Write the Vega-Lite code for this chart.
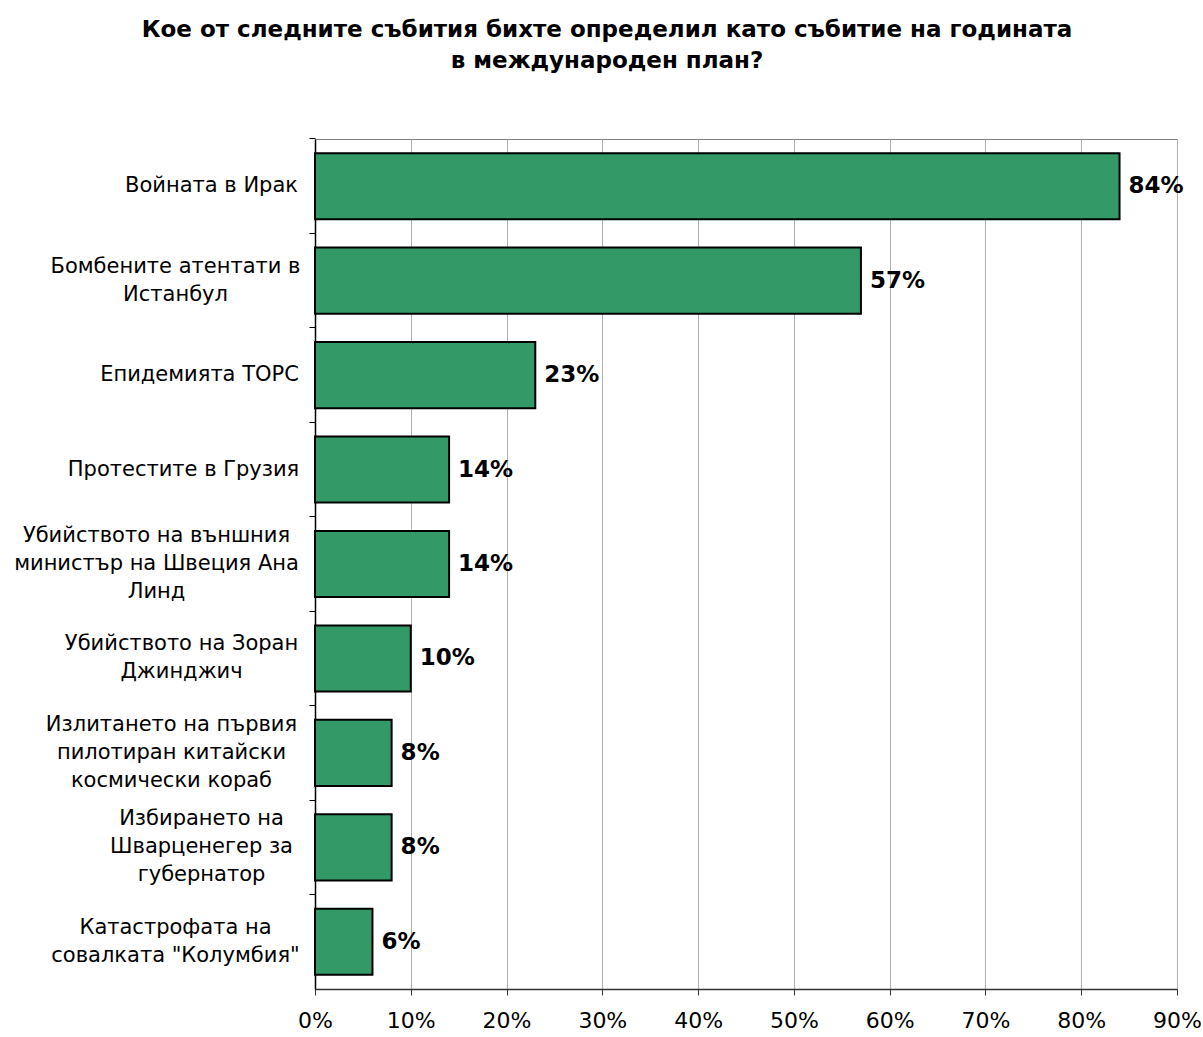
{
  "$schema": "https://vega.github.io/schema/vega-lite/v6.json",
  "autosize": {"type": "none"},
  "width": 862,
  "height": 850,
  "padding": {"left": 315, "top": 139, "right": 26, "bottom": 48},
  "background": "white",
  "title": {
    "text": ["Кое от следните събития бихте определил като събитие на годината", "в международен план?"],
    "font": "DejaVu Sans",
    "fontSize": 23,
    "fontWeight": "bold",
    "color": "black",
    "anchor": "middle",
    "dx": -139,
    "offset": 65,
    "lineHeight": 31
  },
  "config": {
    "view": {"stroke": "#808080", "strokeWidth": 1},
    "font": "DejaVu Sans"
  },
  "data": {
    "values": [
      {"event": "Войната в Ирак", "value": 84},
      {"event": "Бомбените атентати в|Истанбул", "value": 57},
      {"event": "Епидемията ТОРС", "value": 23},
      {"event": "Протестите в Грузия", "value": 14},
      {"event": "Убийството на външния|министър на Швеция Ана|Линд", "value": 14},
      {"event": "Убийството на Зоран|Джинджич", "value": 10},
      {"event": "Излитането на първия|пилотиран китайски|космически кораб", "value": 8},
      {"event": "Избирането на|Шварценегер за|губернатор", "value": 8},
      {"event": "Катастрофата на|совалката \"Колумбия\"", "value": 6}
    ]
  },
  "encoding": {
    "y": {
      "field": "event",
      "type": "nominal",
      "sort": null,
      "scale": {"paddingInner": 0.3, "paddingOuter": 0.15},
      "axis": {
        "title": null,
        "labelExpr": "split(datum.value, '|')",
        "labelFont": "DejaVu Sans",
        "labelFontSize": 21,
        "labelColor": "black",
        "labelLineHeight": 28,
        "labelLimit": 400,
        "labelAlign": "center",
        "labelOffset": {"expr": "-(length(split(datum.value, '|')) - 1) * 14"},
        "labelPadding": {"expr": "datum.value == 'Войната в Ирак' ? 98 : datum.value == 'Бомбените атентати в|Истанбул' ? 134 : datum.value == 'Епидемията ТОРС' ? 110 : datum.value == 'Протестите в Грузия' ? 126 : datum.value == 'Убийството на външния|министър на Швеция Ана|Линд' ? 153 : datum.value == 'Убийството на Зоран|Джинджич' ? 128 : datum.value == 'Излитането на първия|пилотиран китайски|космически кораб' ? 138 : datum.value == 'Избирането на|Шварценегер за|губернатор' ? 108 : 134"},
        "bandPosition": -0.2143,
        "tickColor": "black",
        "tickSize": 6,
        "domainColor": "black",
        "domainWidth": 1.5,
        "grid": false
      }
    },
    "x": {
      "field": "value",
      "type": "quantitative",
      "scale": {"domain": [0, 90], "nice": false},
      "axis": {
        "title": null,
        "values": [0, 10, 20, 30, 40, 50, 60, 70, 80, 90],
        "labelExpr": "datum.value + '%'",
        "labelFont": "DejaVu Sans",
        "labelFontSize": 22,
        "labelColor": "black",
        "labelPadding": 15,
        "labelFlush": false,
        "tickColor": "#333333",
        "tickSize": 6,
        "domainColor": "#333333",
        "domainWidth": 1.5,
        "grid": true,
        "gridColor": "#b0b0b0",
        "gridWidth": 1
      }
    }
  },
  "layer": [
    {
      "mark": {"type": "bar", "color": "#339966", "stroke": "black", "strokeWidth": 2},
      "encoding": {}
    },
    {
      "mark": {"type": "text", "align": "left", "baseline": "middle", "dx": 9, "font": "DejaVu Sans", "fontSize": 23, "fontWeight": "bold", "color": "black", "text": {"expr": "datum.value + '%'"}},
      "encoding": {}
    }
  ]
}
